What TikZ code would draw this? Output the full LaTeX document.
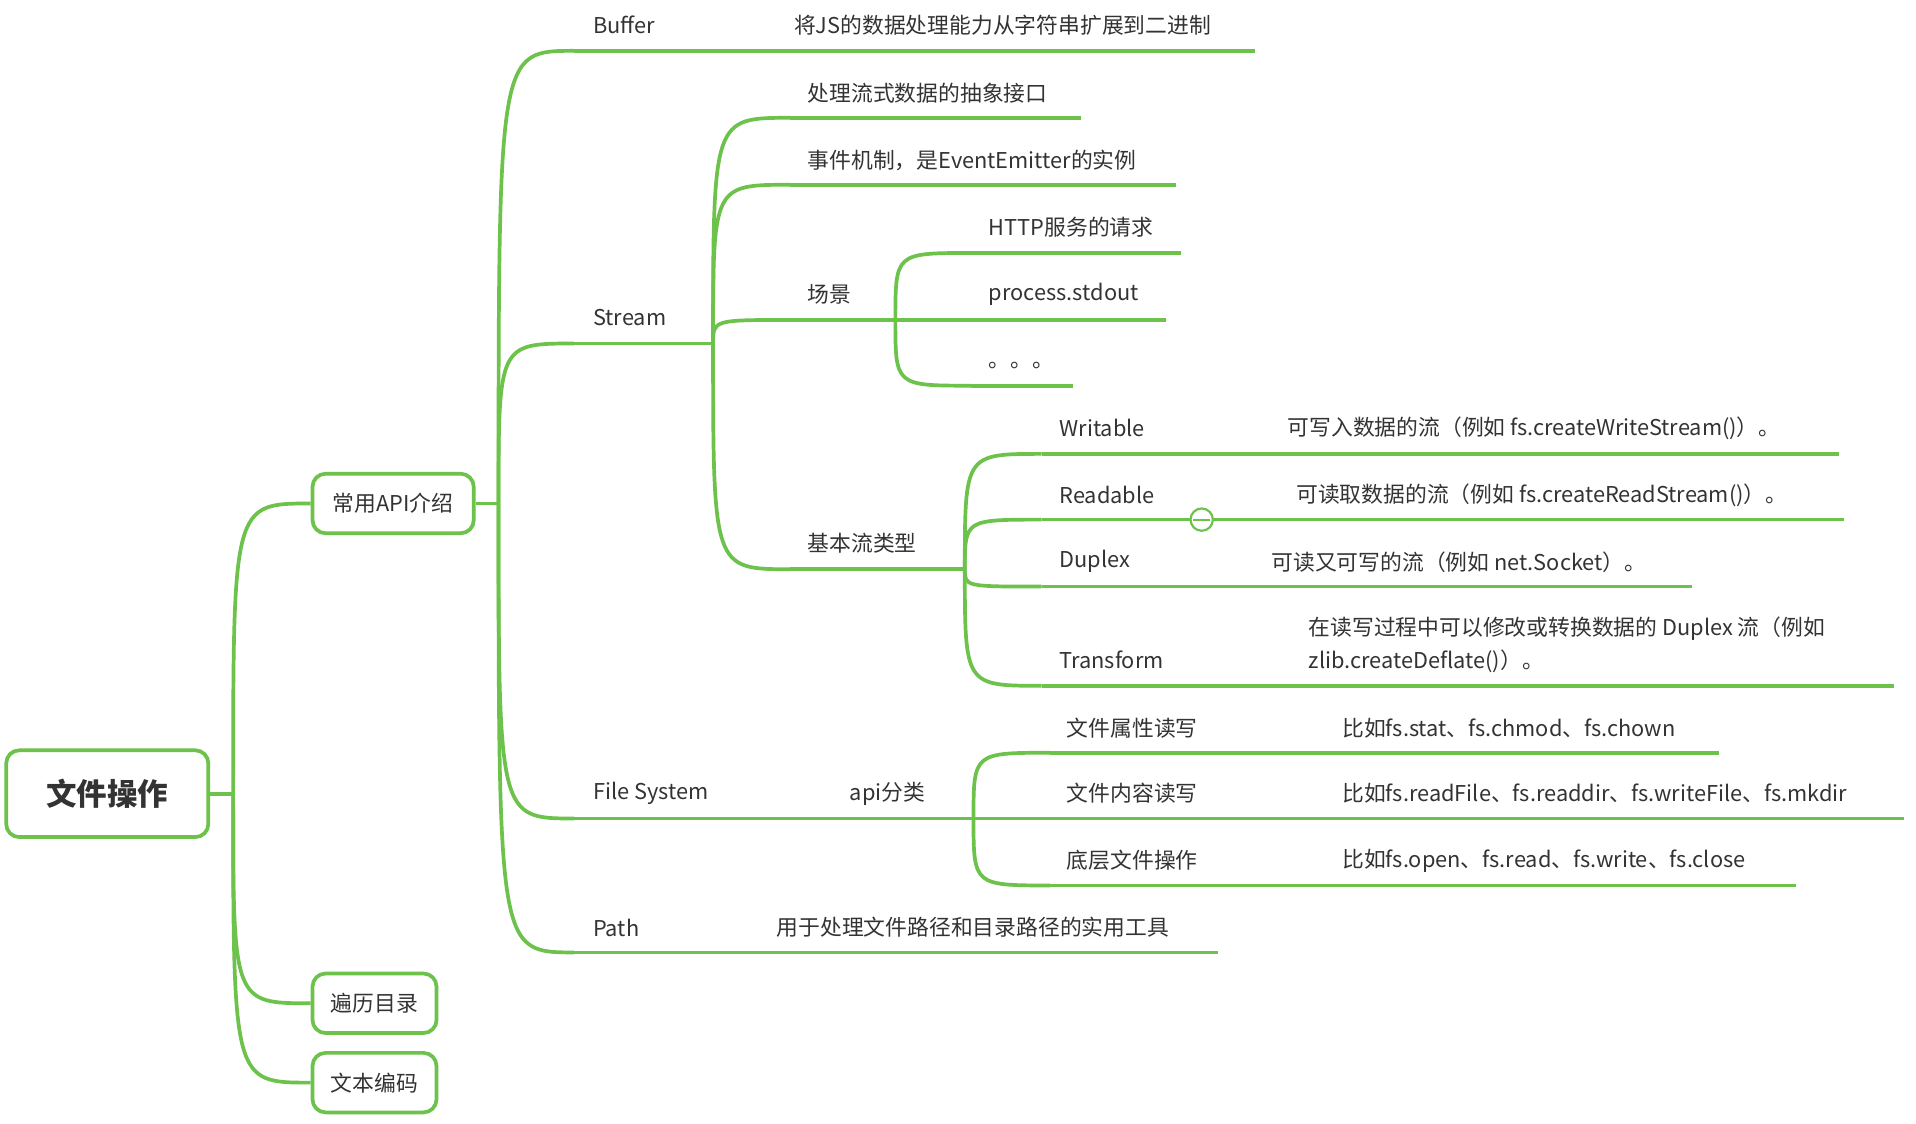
\documentclass[tikz,border=0pt]{standalone}
\usepackage{fontspec}
\setmainfont{Noto Sans CJK SC}
\usetikzlibrary{positioning}
\definecolor{mapgreen}{HTML}{6CC24A}
\definecolor{maptext}{HTML}{333333}
\tikzset{
  lbl/.style={anchor=west, inner sep=0pt, text=maptext, font=\fontsize{10}{12}\selectfont},
  topic/.style={draw=mapgreen, line width=1.7pt, rounded corners=6pt, text=maptext, font=\fontsize{10}{12}\selectfont, inner sep=0pt},
  branch/.style={draw=mapgreen, line width=1.7pt}
}
\newcommand{\curveto}[2]{\draw[branch] (#1) .. controls (#1 |- #2) .. (#2);}
\begin{document}
\begin{tikzpicture}[x=0.02cm, y=-0.02cm]
	\useasboundingbox (0,0) rectangle (1545,906);

	% topics
	\node[topic, minimum width=163*0.02cm, minimum height=70*0.02cm, font=\bfseries\fontsize{14}{16}\selectfont] (root) at (86.5,640) {文件操作};
	\node[topic, minimum width=130*0.02cm, minimum height=48*0.02cm] (api) at (317,406) {常用API介绍};
	\node[topic, minimum width=100*0.02cm, minimum height=48*0.02cm] (walk) at (302,809) {遍历目录};
	\node[topic, minimum width=100*0.02cm, minimum height=48*0.02cm] (enc) at (302,873) {文本编码};

	\coordinate (rootfork) at (188,640);
	\coordinate (apifork) at (402,406);
	\draw[branch] (root.east) -- (rootfork);
	\draw[branch] (api.east) -- (apifork);
	\curveto{rootfork}{api.west}
	\curveto{rootfork}{walk.west}
	\curveto{rootfork}{enc.west}

	% level 2
	\coordinate (bufs) at (463,41);  \coordinate (bufe) at (1012,41);
	\coordinate (strs) at (463,277); \coordinate (strfork) at (575,277);
	\coordinate (fss) at (463,660);  \coordinate (fsfork) at (785,660);
	\coordinate (paths) at (463,768); \coordinate (pathe) at (982,768);
	\node[lbl] (buffer) at (478,20) {Buffer};
	\node[lbl] (bufdesc) at (640,20) {将JS的数据处理能力从字符串扩展到二进制};
	\node[lbl] (stream) at (478,256) {Stream};
	\node[lbl] (fs) at (478,640) {File System};
	\node[lbl] (apicat) at (685,640) {api分类};
	\node[lbl] (path) at (478,748) {Path};
	\node[lbl] (pathdesc) at (626,748) {用于处理文件路径和目录路径的实用工具};
	\curveto{apifork}{bufs}  \draw[branch] (bufs) -- (bufe);
	\curveto{apifork}{strs}  \draw[branch] (strs) -- (strfork);
	\curveto{apifork}{fss}   \draw[branch] (fss) -- (fsfork);
	\curveto{apifork}{paths} \draw[branch] (paths) -- (pathe);

	% stream
	\coordinate (abss) at (637,95);   \coordinate (abse) at (872,95);
	\coordinate (evts) at (637,149);  \coordinate (evte) at (948,149);
	\coordinate (scns) at (637,258);  \coordinate (scnfork) at (722,258);
	\coordinate (typs) at (637,459);  \coordinate (typfork) at (778,459);
	\node[lbl] (abs) at (651,75) {处理流式数据的抽象接口};
	\node[lbl] (evt) at (651,129) {事件机制，是EventEmitter的实例};
	\node[lbl] (scene) at (651,237) {场景};
	\node[lbl] (types) at (651,438) {基本流类型};
	\curveto{strfork}{abss} \draw[branch] (abss) -- (abse);
	\curveto{strfork}{evts} \draw[branch] (evts) -- (evte);
	\curveto{strfork}{scns} \draw[branch] (scns) -- (scnfork);
	\curveto{strfork}{typs} \draw[branch] (typs) -- (typfork);

	% scenes
	\coordinate (https) at (783,204); \coordinate (httpe) at (952,204);
	\coordinate (stdoute) at (940,258);
	\coordinate (dots) at (783,311);  \coordinate (dote) at (865,311);
	\node[lbl] (http) at (797,183) {HTTP服务的请求};
	\node[lbl] (stdout) at (797,237) {process.stdout};
	\node[lbl] (etc) at (797,295) {。。。};
	\curveto{scnfork}{https} \draw[branch] (https) -- (httpe);
	\draw[branch] (scnfork) -- (stdoute);
	\curveto{scnfork}{dots} \draw[branch] (dots) -- (dote);

	% stream types
	\coordinate (wrs) at (840,366); \coordinate (wre) at (1483,366);
	\coordinate (rds) at (840,419); \coordinate (rde) at (1487,419);
	\coordinate (dps) at (840,473); \coordinate (dpe) at (1364,473);
	\coordinate (trs) at (840,553); \coordinate (tre) at (1527,553);
	\node[lbl] (writable) at (854,345) {Writable};
	\node[lbl] (wrdesc) at (1038,345) {可写入数据的流（例如 fs.createWriteStream()）。};
	\node[lbl] (readable) at (854,399) {Readable};
	\node[lbl] (rddesc) at (1045,399) {可读取数据的流（例如 fs.createReadStream()）。};
	\node[lbl] (duplex) at (854,453) {Duplex};
	\node[lbl] (dpdesc) at (1025,453) {可读又可写的流（例如 net.Socket）。};
	\node[lbl] (transform) at (854,532) {Transform};
	\node[lbl, align=left, font=\fontsize{10}{15.5}\selectfont] (trdesc) at (1055,520) {在读写过程中可以修改或转换数据的 Duplex 流（例如\\zlib.createDeflate()）。};
	\curveto{typfork}{wrs} \draw[branch] (wrs) -- (wre);
	\curveto{typfork}{rds} \draw[branch] (rds) -- (rde);
	\curveto{typfork}{dps} \draw[branch] (dps) -- (dpe);
	\curveto{typfork}{trs} \draw[branch] (trs) -- (tre);
	\node[circle, draw=mapgreen, fill=white, line width=1pt, minimum size=18*0.02cm, inner sep=0pt] (fold) at (969,419) {};
	\draw[mapgreen, line width=1pt] ([xshift=-4pt]fold.center) -- ([xshift=4pt]fold.center);

	% api categories
	\coordinate (ats) at (847,607); \coordinate (ate) at (1386,607);
	\coordinate (cts) at (847,660); \coordinate (cte) at (1535,660);
	\coordinate (lls) at (847,714); \coordinate (lle) at (1448,714);
	\node[lbl] (attr) at (860,587) {文件属性读写};
	\node[lbl] (attrdesc) at (1082,587) {比如fs.stat、fs.chmod、fs.chown};
	\node[lbl] (cont) at (860,640) {文件内容读写};
	\node[lbl] (contdesc) at (1082,640) {比如fs.readFile、fs.readdir、fs.writeFile、fs.mkdir};
	\node[lbl] (low) at (860,694) {底层文件操作};
	\node[lbl] (lowdesc) at (1082,694) {比如fs.open、fs.read、fs.write、fs.close};
	\curveto{fsfork}{ats} \draw[branch] (ats) -- (ate);
	\draw[branch] (fsfork) -- (cte);
	\curveto{fsfork}{lls} \draw[branch] (lls) -- (lle);

\end{tikzpicture}
\end{document}
